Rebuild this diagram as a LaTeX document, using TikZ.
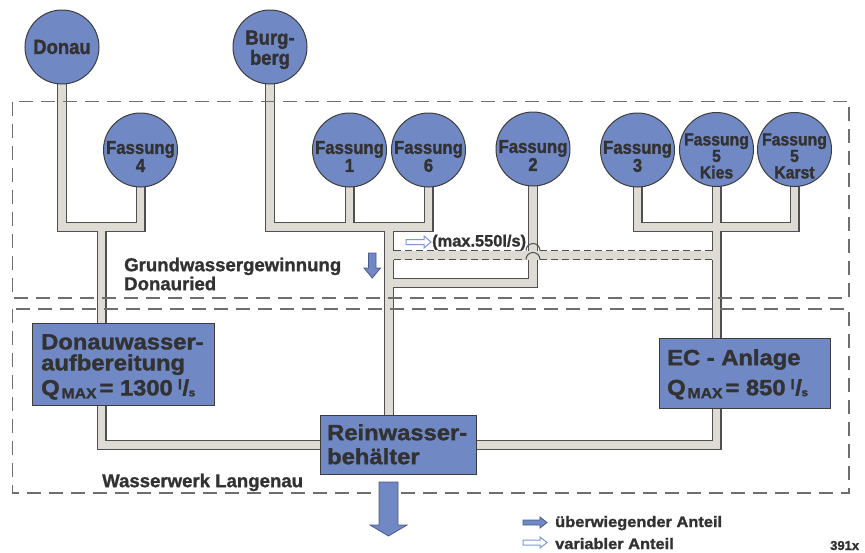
\documentclass[tikz,border=0pt]{standalone}
\usepackage{fontspec}
\setmainfont{Liberation Sans}[BoldFeatures={FakeBold=1.2}]
\newfontfamily\circfont{Liberation Sans}[FakeStretch=0.9, BoldFeatures={FakeBold=1.5}]
\newfontfamily\boxfont{Liberation Sans}[FakeStretch=1.08, BoldFeatures={FakeBold=1.5}]
\newfontfamily\legfont{Liberation Sans}[FakeStretch=1.08, BoldFeatures={FakeBold=1.5}]
\usetikzlibrary{calc}
\pgfdeclarelayer{bg}
\pgfdeclarelayer{pipes}
\pgfdeclarelayer{areas}
\pgfsetlayers{bg,pipes,areas,main}
\definecolor{bluefill}{RGB}{112,136,196}
\definecolor{pipefill}{RGB}{222,219,212}
\definecolor{pipeline}{RGB}{80,80,80}
\definecolor{txt}{RGB}{50,50,50}
\definecolor{dashc}{RGB}{110,110,110}
\definecolor{circline}{RGB}{60,60,60}
\definecolor{hollowc}{RGB}{125,150,215}
\definecolor{arrline}{RGB}{75,90,140}
\newcommand\qmaxline[1]{Q\kern2pt\raisebox{-3pt}{\fontsize{14.5}{14.5}\selectfont MAX}\kern3pt= #1\kern5pt\raisebox{6pt}{\fontsize{14}{14}\selectfont l}\kern0.5pt/\kern-0.5pt\raisebox{-1pt}{\fontsize{11}{11}\selectfont s}}
\newcommand\pipenet[1]{%
  \draw[#1] (donau.center) -- (donau.center |- jL) -- (f4.center |- jL) -- (f4.center);
  \draw[#1] (jL) -- (jL |- rw.center) -- (rw.center);
  \draw[#1] (burg.center) -- (burg.center |- jM) -- (f6.center |- jM) -- (f6.center);
  \draw[#1] (f1.center) -- (f1.center |- jM);
  \draw[#1] (jM) -- (jM |- rw.center);
  \draw[#1] (f2.center) -- (f2.center |- jF) -- (jF);
  \draw[#1] (rw.center) -- (kies.center |- rw.center) -- (kies.center);
  \draw[#1] (f3.center) -- (f3.center |- jR) -- (karst.center |- jR) -- (karst.center);
}
\begin{document}
\begin{tikzpicture}[x=1pt,y=-1pt,
  src/.style={circle, draw=circline, line width=1pt, fill=bluefill, minimum size=74pt, inner sep=0pt},
  srctxt/.style={text=txt, align=center, inner sep=0pt, font=\circfont\bfseries\fontsize{18.6}{18}\selectfont},
  plant/.style={rectangle, draw=circline, line width=1pt, fill=bluefill, inner sep=0pt, anchor=north west},
  boxtxt/.style={text=txt, align=left, inner sep=0pt, anchor=north west, font=\boxfont\bfseries\fontsize{22}{21}\selectfont},
  lbl/.style={text=txt, align=left, inner sep=0pt, anchor=north west, font=\bfseries\fontsize{18.6}{19}\selectfont},
  legtxt/.style={text=txt, inner sep=0pt, anchor=base west, font=\legfont\bfseries\fontsize{15.2}{16}\selectfont},
  pipeout/.style={line width=10pt, draw=pipeline, line join=miter, line cap=butt},
  pipein/.style={line width=7.6pt, draw=pipefill, line join=miter, line cap=butt},
  area/.style={draw=dashc, line width=1.1pt, dash pattern=on 14pt off 8pt},
  fullarrow/.style={fill=bluefill, draw=arrline, line width=0.8pt, line join=miter},
  openarrow/.style={fill=white, draw=hollowc, line width=1pt, line join=miter}
]
\begin{pgfonlayer}{bg}
\fill[white] (0,0) rectangle (865,552);
\end{pgfonlayer}
\useasboundingbox (0,0) rectangle (865,552);

% sources
\node[src] (donau) at (62,47) {};
\node[srctxt, font=\circfont\bfseries\fontsize{20.5}{16}\selectfont] (donaut) at (62,47) {Donau};
\node[src] (burg) at (270,47) {};
\node[srctxt, font=\circfont\bfseries\fontsize{20.5}{16}\selectfont] (burgt) at (270,49.8) {Burg-\\berg};
\node[src] (f4) at (140.5,150) {};
\node[srctxt] (f4t) at (140.5,156.5) {Fassung\\4};
\node[src] (f1) at (349.5,150) {};
\node[srctxt] (f1t) at (349.5,156.5) {Fassung\\1};
\node[src] (f6) at (428.5,150) {};
\node[srctxt] (f6t) at (428.5,156.5) {Fassung\\6};
\node[src] (f2) at (533,149) {};
\node[srctxt] (f2t) at (533,155.5) {Fassung\\2};
\node[src] (f3) at (637.5,150) {};
\node[srctxt] (f3t) at (637.5,156.5) {Fassung\\3};
\node[src] (kies) at (716.5,149.5) {};
\node[srctxt, font=\circfont\bfseries\fontsize{17.5}{16.5}\selectfont] (kiest) at (716.5,156) {Fassung\\5\\Kies};
\node[src] (karst) at (794.5,149.5) {};
\node[srctxt, font=\circfont\bfseries\fontsize{17.5}{16.5}\selectfont] (karstt) at (794.5,156) {Fassung\\5\\Karst};

% plants
\node[plant, minimum width=182pt, minimum height=82pt] (dwa) at (32,323) {};
\node[boxtxt] (dwat) at (41,334) {Donauwasser-\\aufbereitung\\[4pt]\qmaxline{1300}};
\node[plant, minimum width=171pt, minimum height=70pt] (ec) at (659,338) {};
\node[boxtxt] (ect) at (667,349) {EC - Anlage\\[9pt]\qmaxline{850}};
\node[plant, minimum width=156pt, minimum height=59pt] (rw) at (320,415) {};
\node[boxtxt] (rwt) at (327,424) {Reinwasser-\\[3pt]behälter};

% junctions
\coordinate (jL) at (101.5,227);
\coordinate (jM) at (389,227);
\coordinate (jR) at (716.5,227);
\coordinate (jF) at (389,283);
\coordinate (jD) at (389,255);

% labels
\node[lbl] (gw) at (124,257.5) {Grundwassergewinnung\\Donauried};
\node[lbl] (ww) at (102,473.5) {Wasserwerk Langenau};
\node[legtxt, font=\bfseries\fontsize{16.4}{17}\selectfont] (maxl) at (432,246.5) {(max.550l/s)};
\node[legtxt] (leg1) at (555,527) {überwiegender Anteil};
\node[legtxt] (leg2) at (555,549) {variabler Anteil};
\node[legtxt, font=\bfseries\fontsize{13}{14}\selectfont] (num) at (830,550) {391x};

% arrows
\draw[fullarrow] (379,482) -- (398,482) -- (398,525) -- (407,525) -- (388.5,536) -- (370,525) -- (379,525) -- cycle;
\draw[fullarrow] (368.5,253) -- (376,253) -- (376,268) -- (380.5,268) -- (372.25,278) -- (364,268) -- (368.5,268) -- cycle;
\draw[openarrow] (406,239.5) -- (424,239.5) -- (424,236) -- (431,242) -- (424,248) -- (424,244.5) -- (406,244.5) -- cycle;
\draw[fullarrow] (523,520) -- (540,520) -- (540,517) -- (547,522.5) -- (540,528) -- (540,525) -- (523,525) -- cycle;
\draw[openarrow] (523,540) -- (540,540) -- (540,537) -- (547,542.5) -- (540,548) -- (540,545) -- (523,545) -- cycle;

% areas
\begin{pgfonlayer}{areas}
\draw[area] (12.5,101.5) rectangle (849,298);
\draw[area] (12.5,309) rectangle (849,493);
\end{pgfonlayer}

% pipes
\begin{pgfonlayer}{pipes}
\pipenet{pipeout}
\draw[line width=9pt, draw=pipefill, line cap=butt] (jD) -- (kies.center |- jD);
\pipenet{pipein}
\draw[line width=1pt, draw=pipeline, dash pattern=on 7pt off 4pt] (394,250.5) -- (526,250.5) (540,250.5) -- (711.5,250.5);
\draw[line width=1pt, draw=pipeline, dash pattern=on 7pt off 4pt] (394,259.5) -- (526,259.5) (540,259.5) -- (711.5,259.5);
\draw[line width=1pt, draw=pipeline] (526,250.5) arc[start angle=180, end angle=360, radius=7];
\draw[line width=1pt, draw=pipeline] (526,259.5) arc[start angle=180, end angle=360, radius=7];
\end{pgfonlayer}
\end{tikzpicture}
\end{document}
